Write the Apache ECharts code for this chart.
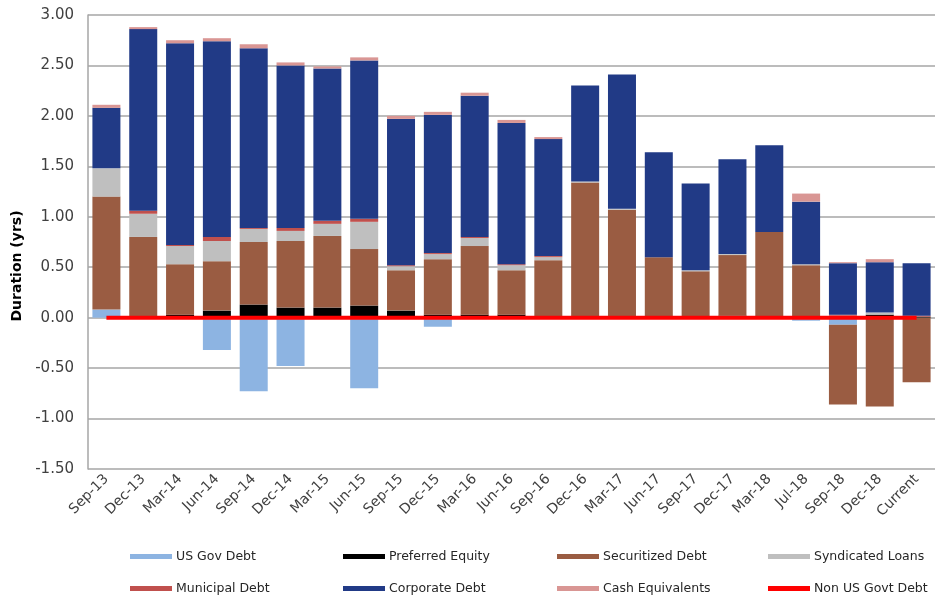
<!DOCTYPE html>
<html>
<head>
<meta charset="utf-8">
<script src="https://cdn.jsdelivr.net/npm/echarts@6/dist/echarts.min.js"></script>
<style>
  html, body { margin: 0; padding: 0; background: #fff; }
  #chart { width: 935px; height: 598px; }
</style>
</head>
<body>
<div id="chart"></div>
<script>
// quarters on the x axis
var categories = ['Sep-13', 'Dec-13', 'Mar-14', 'Jun-14', 'Sep-14', 'Dec-14', 'Mar-15', 'Jun-15',
  'Sep-15', 'Dec-15', 'Mar-16', 'Jun-16', 'Sep-16', 'Dec-16', 'Mar-17', 'Jun-17', 'Sep-17',
  'Dec-17', 'Mar-18', 'Jul-18', 'Sep-18', 'Dec-18', 'Current'];

// duration contribution (yrs) per sector
var usGovDebt = [0.08, 0, 0, -0.32, -0.73, -0.48, 0, -0.70, 0, -0.09, 0, 0, 0, 0, 0, 0, 0, 0, 0, -0.03, -0.07, 0, 0];
var preferredEquity = [0, 0, 0.03, 0.07, 0.13, 0.10, 0.10, 0.12, 0.07, 0.03, 0.03, 0.03, 0, 0, 0, 0, 0, 0.02, 0, 0, 0, 0.03, 0.01];
var securitizedDebt = [1.12, 0.80, 0.50, 0.49, 0.62, 0.66, 0.71, 0.56, 0.40, 0.55, 0.68, 0.44, 0.57, 1.34, 1.07, 0.60, 0.46, 0.60, 0.85, 0.52, -0.79, -0.88, -0.64];
var syndicatedLoans = [0.28, 0.23, 0.18, 0.20, 0.13, 0.10, 0.12, 0.27, 0.04, 0.05, 0.08, 0.05, 0.03, 0.01, 0.01, 0, 0.01, 0.01, 0, 0.01, 0.02, 0.02, 0];
var municipalDebt = [0, 0.03, 0.01, 0.04, 0.01, 0.03, 0.03, 0.03, 0.01, 0.01, 0.01, 0.01, 0.01, 0, 0, 0, 0, 0, 0, 0, 0.01, 0, 0.01];
var corporateDebt = [0.60, 1.80, 2.00, 1.94, 1.78, 1.61, 1.51, 1.57, 1.45, 1.37, 1.40, 1.40, 1.16, 0.95, 1.33, 1.04, 0.86, 0.94, 0.86, 0.62, 0.51, 0.50, 0.52];
var cashEquivalents = [0.03, 0.02, 0.03, 0.03, 0.04, 0.03, 0.02, 0.03, 0.03, 0.03, 0.03, 0.03, 0.02, 0, 0, 0, 0, 0, 0, 0.08, 0.01, 0.03, 0];
var nonUsGovtDebt = [0, 0, 0, 0, 0, 0, 0, 0, 0, 0, 0, 0, 0, 0, 0, 0, 0, 0, 0, 0, 0, 0, 0];

var yTicks = { min: -1.5, max: 3, interval: 0.5 };

var font = 'DejaVu Sans';
var chart = echarts.init(document.getElementById('chart'));

function bar(name, data, color) {
  return {
    name: name,
    type: 'bar',
    stack: 'total',
    barWidth: 28,
    data: data,
    itemStyle: { color: color }
  };
}

// one legend per item so the columns line up like the original
function legendItem(name, left, top) {
  return {
    data: [name],
    left: left,
    top: top,
    icon: 'rect',
    itemWidth: 42,
    itemHeight: 5,
    itemGap: 0,
    padding: 0,
    textStyle: { fontFamily: font, fontSize: 12.5, color: '#262626', padding: [0, 0, 0, -1] }
  };
}

chart.setOption({
  animation: false,
  grid: { left: 88, top: 15, width: 851, height: 454 },
  legend: [
    legendItem('US Gov Debt', 130, 550),
    legendItem('Preferred Equity', 343, 550),
    legendItem('Securitized Debt', 557, 550),
    legendItem('Syndicated Loans', 768, 550),
    legendItem('Municipal Debt', 130, 582),
    legendItem('Corporate Debt', 343, 582),
    legendItem('Cash Equivalents', 557, 582),
    legendItem('Non US Govt Debt', 768, 582)
  ],
  xAxis: {
    type: 'category',
    data: categories,
    axisLine: { onZero: false, show: false },
    axisTick: { show: false },
    axisLabel: { rotate: 45, margin: 8, fontFamily: font, fontSize: 14, color: '#404040' }
  },
  yAxis: {
    type: 'value',
    min: yTicks.min,
    max: yTicks.max,
    interval: yTicks.interval,
    axisLine: { show: true, lineStyle: { color: '#a6a6a6', width: 1.5 } },
    axisTick: { show: false },
    splitLine: { lineStyle: { color: '#a6a6a6', width: 1.5 } },
    axisLabel: {
      margin: 14,
      fontFamily: font,
      fontSize: 15,
      color: '#404040',
      formatter: function (v) { return v.toFixed(2); }
    }
  },
  graphic: [{
    type: 'text',
    x: 17,
    y: 266,
    rotation: Math.PI / 2,
    style: {
      text: 'Duration (yrs)',
      fontFamily: font,
      fontSize: 14,
      fontWeight: 'bold',
      fill: '#000',
      align: 'center',
      verticalAlign: 'middle'
    }
  }],
  series: [
    bar('US Gov Debt', usGovDebt, '#8db4e2'),
    bar('Preferred Equity', preferredEquity, '#000000'),
    bar('Securitized Debt', securitizedDebt, '#9a5c42'),
    bar('Syndicated Loans', syndicatedLoans, '#bfbfbf'),
    bar('Municipal Debt', municipalDebt, '#c0504d'),
    bar('Corporate Debt', corporateDebt, '#213a86'),
    bar('Cash Equivalents', cashEquivalents, '#d99694'),
    {
      name: 'Non US Govt Debt',
      type: 'line',
      data: nonUsGovtDebt,
      symbol: 'none',
      z: 10,
      lineStyle: { color: '#ff0000', width: 4 },
      itemStyle: { color: '#ff0000' }
    }
  ]
});
</script>
</body>
</html>
